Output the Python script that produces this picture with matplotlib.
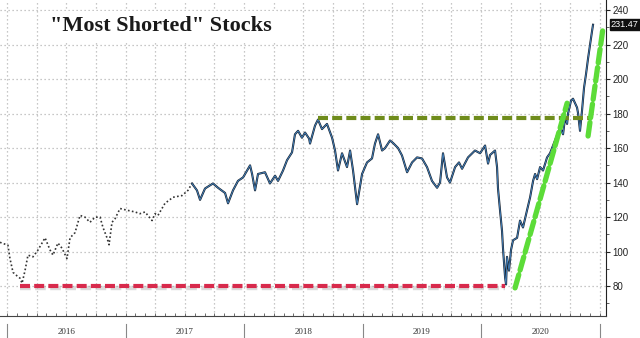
import matplotlib
matplotlib.use("Agg")
import matplotlib.pyplot as plt
from matplotlib.ticker import MultipleLocator, FixedLocator, NullFormatter
import matplotlib.transforms as mtransforms

# Index level, sampled as (decimal year, value)
years = [
    2015.941, 2016.008, 2016.025, 2016.051, 2016.084, 2016.110, 2016.127, 2016.152,
    2016.177, 2016.219, 2016.262, 2016.321, 2016.363, 2016.388, 2016.430, 2016.464,
    2016.506, 2016.532, 2016.574, 2016.616, 2016.658, 2016.700, 2016.743, 2016.785,
    2016.810, 2016.844, 2016.861, 2016.886, 2016.911, 2016.954, 2017.013, 2017.080,
    2017.122, 2017.165, 2017.224, 2017.249, 2017.274, 2017.333, 2017.401, 2017.477,
    2017.527, 2017.561, 2017.603, 2017.629, 2017.671, 2017.738, 2017.781, 2017.840,
    2017.865, 2017.907, 2017.949, 2017.992, 2018.051, 2018.068, 2018.093, 2018.118,
    2018.177, 2018.219, 2018.262, 2018.287, 2018.329, 2018.363, 2018.405, 2018.430,
    2018.456, 2018.489, 2018.515, 2018.549, 2018.557, 2018.599, 2018.624, 2018.658,
    2018.700, 2018.743, 2018.768, 2018.793, 2018.827, 2018.869, 2018.895, 2018.920,
    2018.954, 2018.996, 2019.038, 2019.080, 2019.105, 2019.131, 2019.165, 2019.190,
    2019.232, 2019.257, 2019.300, 2019.333, 2019.376, 2019.418, 2019.460, 2019.502,
    2019.544, 2019.586, 2019.629, 2019.654, 2019.679, 2019.713, 2019.738, 2019.781,
    2019.814, 2019.840, 2019.890, 2019.949, 2019.992, 2020.034, 2020.059, 2020.076,
    2020.118, 2020.135, 2020.143, 2020.160, 2020.177, 2020.186, 2020.203, 2020.211,
    2020.219, 2020.236, 2020.253, 2020.270, 2020.304, 2020.329, 2020.354, 2020.388,
    2020.414, 2020.439, 2020.456, 2020.473, 2020.498, 2020.523, 2020.557, 2020.582,
    2020.624, 2020.667, 2020.692, 2020.709, 2020.726, 2020.734, 2020.759, 2020.776,
    2020.810, 2020.819, 2020.835, 2020.852, 2020.869, 2020.886, 2020.903, 2020.920,
    2020.937, 2020.945,
]
values = [
    105.4, 103.7, 96.0, 88.0, 86.0, 84.6, 81.7, 89.0,
    98.0, 97.0, 101.0, 108.0, 101.0, 98.0, 105.0, 102.0,
    96.0, 108.0, 111.0, 121.0, 120.0, 117.0, 120.0, 120.0,
    114.0, 108.0, 104.0, 117.0, 119.0, 125.0, 124.0, 123.0,
    122.0, 123.0, 118.0, 122.0, 121.0, 128.0, 131.5, 132.5,
    135.5, 139.5, 135.5, 130.0, 136.6, 139.5, 137.0, 134.0,
    128.0, 135.5, 141.0, 143.0, 150.0, 145.0, 135.5, 145.0,
    146.0, 139.5, 144.0, 141.0, 147.0, 153.0, 157.5, 168.0,
    170.0, 166.0, 169.0, 165.5, 162.6, 173.0, 176.5, 171.0,
    174.0, 166.0, 158.6, 147.0, 157.0, 149.0, 158.6, 147.0,
    127.5, 145.0, 151.7, 154.0, 162.6, 168.0, 158.6, 160.0,
    164.4, 163.0, 160.0, 155.7, 146.0, 151.7, 154.6, 154.0,
    149.0, 141.0, 137.0, 140.0, 157.0, 143.0, 140.0, 149.0,
    151.7, 148.0, 154.6, 158.6, 157.0, 161.5, 151.0, 156.0,
    158.6, 149.0, 136.6, 124.0, 112.0, 101.0, 85.0, 81.0,
    97.0, 89.0, 101.0, 106.6, 108.0, 118.0, 114.0, 124.0,
    131.5, 141.0, 145.0, 142.0, 149.0, 147.0, 154.6, 157.0,
    164.4, 172.0, 168.0, 177.7, 174.0, 180.0, 187.5, 188.6,
    183.5, 180.0, 170.0, 181.7, 195.0, 203.0, 212.0, 220.0,
    228.0, 231.47,
]
last_value = 231.47
dotted_until = 2017.561

# Annotation lines: (x0, x1), (y0, y1)
red_x, red_y = [2016.110, 2020.200], [80.0, 80.0]
olive_x, olive_y = [2018.624, 2020.930], [177.5, 177.5]
green1_x, green1_y = [2020.287, 2020.726], [79.0, 186.0]
green2_x, green2_y = [2020.903, 2021.030], [167.0, 230.0]

year_labels = ["2016", "2017", "2018", "2019", "2020"]
year_starts = [2016, 2017, 2018, 2019, 2020, 2021]
y_ticks = [80, 100, 120, 140, 160, 180, 200, 220, 240]

fig = plt.figure(figsize=(6.4, 3.38), dpi=100)
ax = fig.add_axes([0.0, 0.065, 0.947, 0.935])
ax.set_xlim(2015.941, 2021.055)
ax.set_ylim(62.7, 245.8)

# grid
ax.set_xticks([y + q / 4 for y in range(2016, 2021) for q in range(4)] + [2021], minor=False)
ax.grid(True, color="#b5b5b5", linestyle=(0, (1, 2.2)), linewidth=0.9)
ax.set_axisbelow(True)

# series: early dotted segment, later solid two-tone line
early = [(x, v) for x, v in zip(years, values) if x <= dotted_until]
late = [(x, v) for x, v in zip(years, values) if x >= dotted_until]
ax.plot([p[0] for p in early], [p[1] for p in early], color="#333333",
        linestyle=(0, (1, 1.4)), linewidth=1.2, zorder=3)
lx, lv = [p[0] for p in late], [p[1] for p in late]
ax.plot(lx, lv, color="#18222f", linewidth=1.5, zorder=3, solid_joinstyle="round")
ax.plot(lx, lv, color="#4a8fd0", linewidth=0.55, zorder=4, solid_joinstyle="round")

# dashed annotation lines
shadow = dict(color="#9a9a9a", alpha=0.35)
ax.plot(red_x, [v - 0.9 for v in red_y], linewidth=3.2, dashes=(2.4, 1.0), zorder=4, **shadow)
ax.plot(red_x, red_y, color="#d82a4c", linewidth=3.0, dashes=(2.4, 1.0), zorder=5)
ax.plot(olive_x, olive_y, color="#6f8c1c", linewidth=3.0, dashes=(2.4, 1.0), zorder=5)
ax.plot(green1_x, green1_y, color="#5cdc38", linewidth=3.8, dashes=(2.6, 0.9),
        zorder=6, dash_capstyle="round")
ax.plot(green2_x, green2_y, color="#5cdc38", linewidth=3.8, dashes=(2.6, 0.9),
        zorder=6, dash_capstyle="round")

# spines
for s in ("top", "left"):
    ax.spines[s].set_visible(False)
ax.spines["right"].set_color("#222222")
ax.spines["bottom"].set_color("#444444")
ax.spines["right"].set_linewidth(0.8)
ax.spines["bottom"].set_linewidth(0.8)

# y axis on the right
ax.yaxis.tick_right()
ax.yaxis.set_major_locator(FixedLocator(y_ticks))
ax.yaxis.set_minor_locator(MultipleLocator(10))
ax.tick_params(axis="y", which="major", length=3, width=0.8, pad=1.5,
               labelsize=7, labelcolor="#222222", colors="#222222")
ax.tick_params(axis="y", which="minor", length=2, width=0.6, colors="#444444")
for lbl in ax.get_yticklabels():
    lbl.set_fontfamily("Liberation Sans")

# x axis: monthly minor ticks, no tick labels
ax.xaxis.set_minor_locator(MultipleLocator(1 / 12))
ax.xaxis.set_major_formatter(NullFormatter())
ax.tick_params(axis="x", which="both", direction="in", length=2.5, width=0.6,
               colors="#555555", labelbottom=False)

trans = mtransforms.blended_transform_factory(ax.transData, ax.transAxes)
for ys in year_starts:
    ax.plot([ys, ys], [-0.025, -0.075], transform=trans, color="#888888",
            linewidth=0.8, clip_on=False)
for i, lab in enumerate(year_labels):
    ax.text(year_starts[i] + 0.5, -0.05, lab, transform=trans, ha="center", va="center",
            fontsize=6.5, color="#333333", family="Liberation Serif")

# last value tag
ax.annotate(f"{last_value:.2f}", xy=(1.0, last_value), xycoords=("axes fraction", "data"),
            xytext=(3.5, 0), textcoords="offset points", ha="left", va="center",
            fontsize=6.6, color="white", family="Liberation Sans", annotation_clip=False,
            bbox=dict(boxstyle="square,pad=0.12", fc="#111111", ec="#111111"))

# title
ax.text(0.266, 0.918, '"Most Shorted" Stocks', transform=ax.transAxes, ha="center",
        va="center", fontsize=16, fontweight="bold", family="Liberation Serif",
        color="#1a1a1a", zorder=7,
        bbox=dict(boxstyle="square,pad=0.22", fc="white", ec="none"))

fig.savefig("out.png", dpi=100)
